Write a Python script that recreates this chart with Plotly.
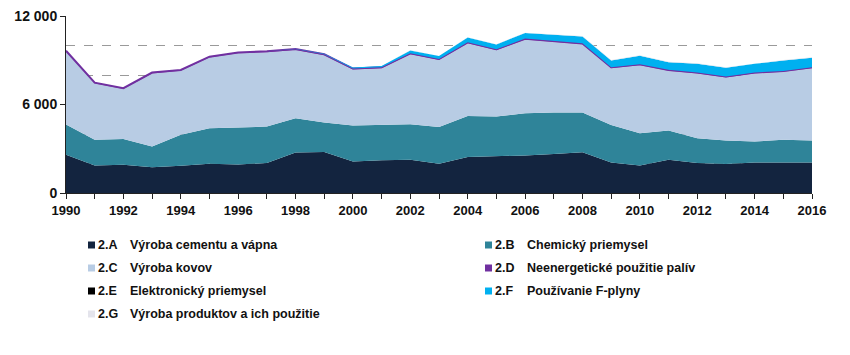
import plotly.graph_objects as go

years = list(range(1990, 2017))

# kt CO2 eq.
s_2A = [2600, 1870, 1920, 1740, 1850, 1980, 1940, 2030, 2750, 2780, 2140, 2230, 2260, 1980,
        2440, 2480, 2550, 2640, 2770, 2070, 1870, 2260, 2030, 1960, 2070, 2070, 2070]
s_2B = [2050, 1740, 1740, 1420, 2100, 2420, 2500, 2480, 2330, 2000, 2440, 2420, 2410, 2490,
        2790, 2710, 2860, 2820, 2690, 2550, 2190, 1980, 1690, 1610, 1430, 1540, 1500]
s_2C = [4940, 3820, 3390, 4950, 4340, 4790, 5040, 5040, 4630, 4570, 3800, 3820, 4750, 4560,
        4930, 4500, 5000, 4810, 4630, 3850, 4610, 4050, 4390, 4270, 4610, 4610, 4900]
s_2D = [60, 60, 60, 60, 60, 60, 60, 60, 60, 60, 60, 60, 60, 60,
        60, 60, 60, 60, 60, 60, 60, 60, 60, 60, 60, 60, 60]
s_2E = [0, 0, 0, 0, 0, 0, 0, 0, 0, 0, 5, 5, 5, 5,
        5, 5, 5, 5, 5, 5, 5, 5, 5, 5, 5, 5, 5]
s_2F = [0, 0, 0, 0, 0, 0, 0, 0, 20, 40, 75, 85, 190, 195,
        320, 320, 385, 420, 470, 460, 575, 525, 595, 595, 595, 700, 640]
s_2G = [0, 0, 0, 0, 0, 0, 0, 0, 0, 0, 0, 0, 5, 5,
        15, 15, 20, 25, 25, 25, 30, 30, 30, 30, 30, 35, 35]

codes = ["2.A", "2.B", "2.C", "2.D", "2.E", "2.F", "2.G"]
labels = ["Výroba cementu a vápna", "Chemický priemysel", "Výroba kovov",
          "Neenergetické použitie palív", "Elektronický priemysel",
          "Používanie F-plyny", "Výroba produktov a ich použitie"]
series = [s_2A, s_2B, s_2C, s_2D, s_2E, s_2F, s_2G]
colors = ["#13243F", "#2F8499", "#B8CCE4", "#7030A0", "#000000", "#00B0F0", "#E4E4EC"]

y_tickvals = [0, 6000, 12000]
y_ticktext = ["0", "6 000", "12 000"]

fig = go.Figure()
for code, lab, vals, col in zip(codes, labels, series, colors):
    lw = 2 if code == "2.D" else 0
    fig.add_trace(go.Scatter(
        x=years, y=vals, name=f"{code} {lab}", stackgroup="one", mode="lines",
        line=dict(color=col, width=lw), fillcolor=col, showlegend=False,
        hoverinfo="x+y+name"))

font_fam = "Liberation Sans, Arial, sans-serif"

# page offset (body margin) of 8px
OFF = 8
L, T = 66 - OFF, 16 - OFF
PR, PB = 812 - OFF, 193 - OFF
fig.update_layout(
    width=850, height=355,
    margin=dict(l=L, r=850 - PR, t=T, b=355 - PB),
    paper_bgcolor="white", plot_bgcolor="white",
    font=dict(family=font_fam, color="#1a1a1a"),
    xaxis=dict(
        range=[1990, 2016], tickvals=years,
        ticktext=[str(y) if y % 2 == 0 else "" for y in years],
        ticks="outside", ticklen=5, tickcolor="#222", tickwidth=1,
        showline=True, linecolor="#222", linewidth=1, showgrid=False, zeroline=False,
        tickfont=dict(size=13, family=font_fam, color="#111", weight="bold"),
    ),
    yaxis=dict(
        range=[0, 12010], tickvals=y_tickvals, ticktext=y_ticktext,
        ticks="outside", ticklen=5, tickcolor="#222",
        showline=True, linecolor="#222", linewidth=1, zeroline=False,
        showgrid=True, gridcolor="#d4d4d4", gridwidth=1.2,
        minor=dict(dtick=2000, tick0=0, showgrid=True, gridcolor="#9a9a9a",
                   griddash="dash", gridwidth=1),
        tickfont=dict(size=14, family=font_fam, color="#111", weight="bold"),
        automargin=False,
    ),
)

# Custom legend (two columns); positions given in page pixels
W, H = PR - L, PB - T
def px_to_paper(px, py):
    return (px - OFF - L) / W, (PB - (py - OFF)) / H

col_x = [88, 485]
code_dx = 9
label_dx = 40
row_y = [245, 268, 291, 314]
for i, (code, lab, col) in enumerate(zip(codes, labels, colors)):
    r, c = divmod(i, 2)
    sx = col_x[c]
    sy = row_y[r]
    x0, y0 = px_to_paper(sx, sy + 3.5)
    x1, y1 = px_to_paper(sx + 7, sy - 3.5)
    fig.add_shape(type="rect", xref="paper", yref="paper", x0=x0, y0=y0, x1=x1, y1=y1,
                  fillcolor=col, line=dict(width=0))
    ax, ay = px_to_paper(sx + code_dx - 1, sy)
    fig.add_annotation(xref="paper", yref="paper", x=ax, y=ay, text=f"<b>{code}</b>",
                       showarrow=False, xanchor="left", yanchor="middle",
                       font=dict(size=12.5, family=font_fam, color="#111"))
    lx, ly = px_to_paper(sx + label_dx, sy)
    fig.add_annotation(xref="paper", yref="paper", x=lx, y=ly, text=f"<b>{lab}</b>",
                       showarrow=False, xanchor="left", yanchor="middle",
                       font=dict(size=12.5, family=font_fam, color="#111"))

fig.write_html("out.html")
